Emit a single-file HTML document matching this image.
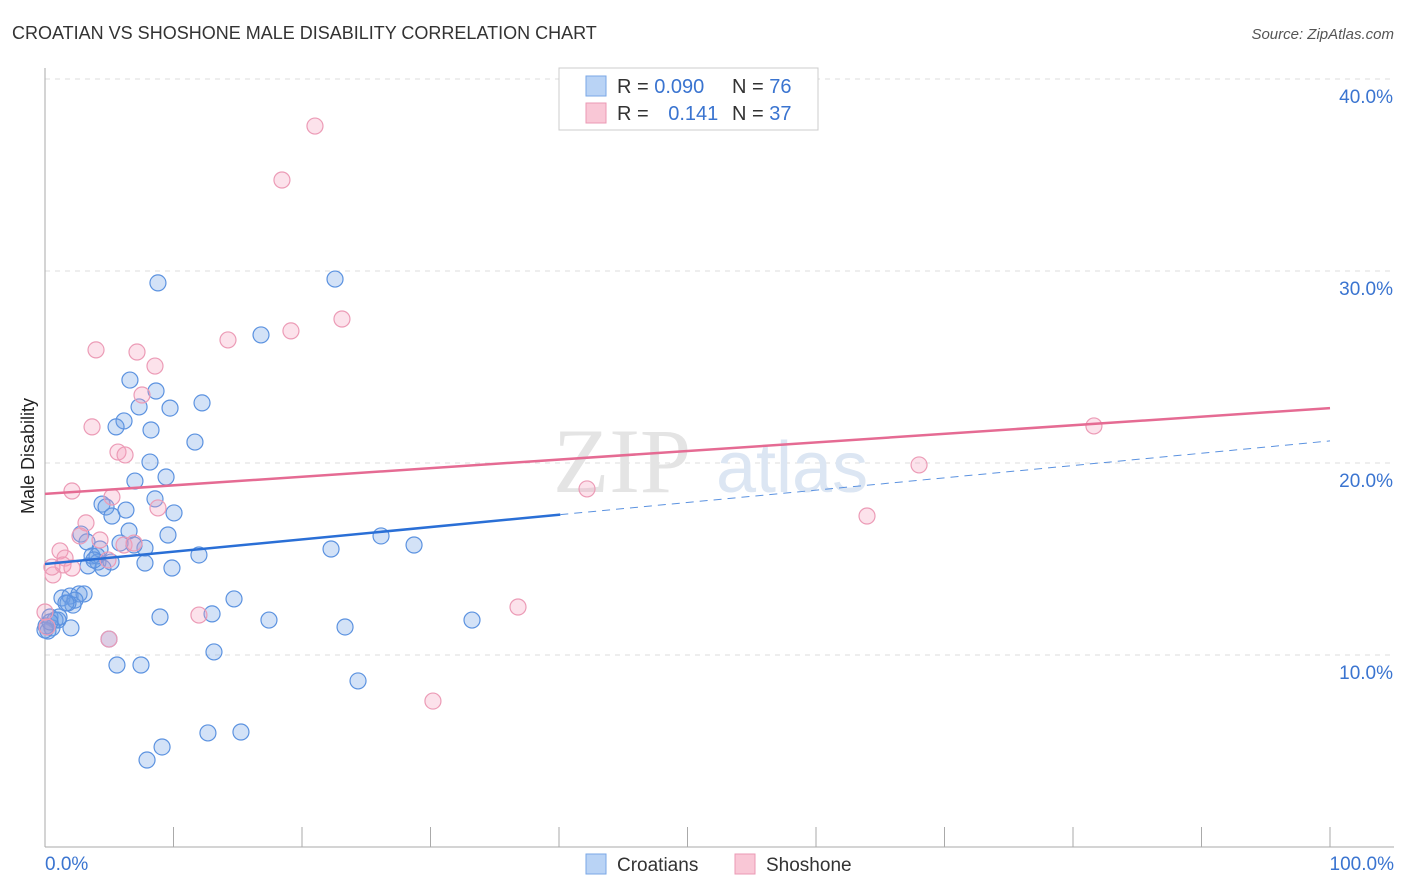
<!DOCTYPE html>
<html><head><meta charset="utf-8">
<style>
body{margin:0;background:#fff;font-family:"Liberation Sans",sans-serif;}
#wrap{position:relative;width:1406px;height:892px;overflow:hidden;}
</style></head>
<body>
<div id="wrap">
<svg id="svg" width="1406" height="892" xmlns="http://www.w3.org/2000/svg">
<text x="12" y="39" font-size="18" fill="#333">CROATIAN VS SHOSHONE MALE DISABILITY CORRELATION CHART</text>
<text x="1394" y="39" font-size="15" font-style="italic" fill="#555" text-anchor="end">Source: ZipAtlas.com</text>
<text x="34" y="456" font-size="18" fill="#222" text-anchor="middle" transform="rotate(-90 34 456)">Male Disability</text>
<g id="grid"></g>
<g>
<text x="553" y="492" font-size="92" fill="#e4e4e4" font-family="Liberation Serif,serif">ZIP</text>
<text x="716" y="492" font-size="72" fill="#dce6f3">atlas</text>
</g>
<g id="axes"></g>
<g id="pts"></g>
<g id="trends"></g>
<g>
<rect x="559" y="68" width="259" height="62" fill="#fff" stroke="#ccc"/>
<rect x="586" y="76" width="20" height="20" fill="#b9d3f5" stroke="#7aa7e6"/>
<rect x="586" y="103" width="20" height="20" fill="#f9c7d6" stroke="#eb9ab4"/>
<text x="617" y="93" font-size="20" fill="#333">R = <tspan fill="#3a74d0">0.090</tspan></text>
<text x="732" y="93" font-size="20" fill="#333">N = <tspan fill="#3a74d0">76</tspan></text>
<text x="617" y="120" font-size="20" fill="#333">R = <tspan fill="#3a74d0" dx="14">0.141</tspan></text>
<text x="732" y="120" font-size="20" fill="#333">N = <tspan fill="#3a74d0">37</tspan></text>
</g>
<g>
<rect x="586" y="854" width="20" height="20" fill="#b9d3f5" stroke="#7aa7e6"/>
<text x="617" y="871" font-size="19" fill="#333">Croatians</text>
<rect x="735" y="854" width="20" height="20" fill="#f9c7d6" stroke="#eb9ab4"/>
<text x="766" y="871" font-size="19" fill="#333">Shoshone</text>
</g>
</svg>
</div>
<script>
const yTicks=[10,20,30,40];
const yTickLabels=["10.0%","20.0%","30.0%","40.0%"];
const xTickLabels=["0.0%","100.0%"];
const blueX=[8.79,22.57,16.81,6.61,8.64,7.32,9.73,12.22,6.15,5.53,8.25,11.67,8.17,9.42,7.00,8.56,4.44,4.75,6.30,5.21,10.04,9.57,2.80,6.54,3.27,5.84,7.78,4.28,6.93,3.66,4.12,5.14,3.35,4.51,7.78,9.88,11.98,22.26,26.15,28.72,1.32,1.95,2.65,3.04,2.18,2.33,1.79,0.39,0.78,1.01,0.08,0.54,0.23,2.02,1.09,8.95,13.00,14.71,17.43,23.35,33.23,13.15,5.60,7.47,24.36,12.68,15.25,9.11,7.94,4.98,4.05,3.81,1.63,0,0.39];
const blueY=[29.38,29.58,26.67,24.32,23.75,22.92,22.86,23.13,22.19,21.88,21.72,21.09,20.05,19.27,19.06,18.13,17.86,17.71,17.55,17.24,17.40,16.25,16.30,16.46,15.89,15.83,15.57,15.52,15.73,15.16,14.84,14.84,14.64,14.53,14.79,14.53,15.21,15.52,16.20,15.73,12.97,13.07,13.18,13.18,12.60,12.86,12.71,11.98,11.82,11.82,11.51,11.41,11.25,11.41,11.98,11.98,12.14,12.92,11.82,11.46,11.82,10.16,9.48,9.48,8.65,5.94,5.99,5.21,4.53,10.83,15.16,14.95,12.71,11.30,11.72];
const pinkX=[21.01,18.44,3.97,7.16,19.14,23.11,14.24,8.56,7.55,3.66,5.68,6.23,2.10,5.21,8.79,3.19,2.72,4.28,6.15,6.93,4.90,1.17,1.56,1.40,2.10,0.62,0.54,0,0.16,4.98,11.98,36.81,42.18,30.19,63.97,68.02,81.63];
const pinkY=[37.55,34.74,25.89,25.78,26.88,27.50,26.41,25.05,23.54,21.88,20.57,20.42,18.54,18.23,17.66,16.88,16.20,15.99,15.73,15.83,14.95,15.42,15.05,14.69,14.53,14.17,14.58,12.24,11.46,10.83,12.08,12.50,18.65,7.60,17.24,19.90,21.93];
const blueTrend=[14.74,21.15];
const blueSolidEnd=40.1;
const pinkTrend=[18.39,22.86];

const NS="http://www.w3.org/2000/svg";
const X0=45,X1=1330,YB=847,PPY=19.2;
function sx(v){return X0+(X1-X0)*v/100;}
function sy(v){return YB-v*PPY;}
function mk(tag,attrs,parent){const e=document.createElementNS(NS,tag);for(const k in attrs)e.setAttribute(k,attrs[k]);parent.appendChild(e);return e;}
const grid=document.getElementById('grid'),axes=document.getElementById('axes');
yTicks.forEach((t,i)=>{
  const l=mk('line',{x1:X0,x2:1394,y1:sy(t),y2:sy(t),stroke:'#ddd','stroke-dasharray':'5,5'},grid);
  
  
  const tx=mk('text',{x:1393,y:sy(t)+24,'font-size':19,fill:'#3a74d0','text-anchor':'end'},axes);
  tx.textContent=yTickLabels[i];
  
  
});
let a=mk('line',{x1:X0,x2:X0,y1:68,y2:YB,stroke:'#aaa'},axes);


a=mk('line',{x1:X0,x2:1394,y1:YB,y2:YB,stroke:'#aaa'},axes);


for(let i=0;i<=10;i++){
  const t=mk('line',{x1:sx(i*10),x2:sx(i*10),y1:YB,y2:YB-20,stroke:'#aaa'},axes);
  
  
}
[[0,'start',45],[100,'end',1394]].forEach((p,i)=>{
  const tx=mk('text',{x:p[2],y:870,'font-size':19,fill:'#3a74d0','text-anchor':p[1]},axes);
  tx.textContent=xTickLabels[i];
  
  
});
const pts=document.getElementById('pts');
blueX.forEach((v,i)=>{
  const c=mk('circle',{cx:sx(v),cy:sy(blueY[i]),r:8,fill:'rgba(110,160,230,0.3)',stroke:'#5b92e0','stroke-width':1.2},pts);
  
  
});
pinkX.forEach((v,i)=>{
  const c=mk('circle',{cx:sx(v),cy:sy(pinkY[i]),r:8,fill:'rgba(245,160,190,0.3)',stroke:'#ec9bb6','stroke-width':1.2},pts);
  
  
});
const tr=document.getElementById('trends');
function by(x){return blueTrend[0]+(blueTrend[1]-blueTrend[0])*x/100;}
let l=mk('line',{x1:sx(0),y1:sy(by(0)),x2:sx(blueSolidEnd),y2:sy(by(blueSolidEnd)),stroke:'#2a6fd6','stroke-width':2.5},tr);


l=mk('line',{x1:sx(blueSolidEnd),y1:sy(by(blueSolidEnd)),x2:sx(100),y2:sy(by(100)),stroke:'#5b92e0','stroke-width':1,'stroke-dasharray':'8,6'},tr);


l=mk('line',{x1:sx(0),y1:sy(pinkTrend[0]),x2:sx(100),y2:sy(pinkTrend[1]),stroke:'#e56b93','stroke-width':2.5},tr);


</script>
</body></html>
